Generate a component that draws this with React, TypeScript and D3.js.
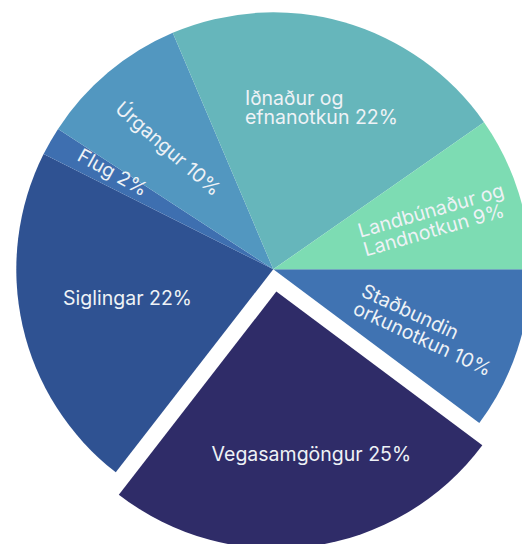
import React from "react";
import * as d3 from "d3";

// Categories in drawing order (clockwise, starting at 3 o'clock)
const categories = [
  "Staðbundin orkunotkun",
  "Vegasamgöngur",
  "Siglingar",
  "Flug",
  "Úrgangur",
  "Iðnaður og efnanotkun",
  "Landbúnaður og Landnotkun",
];
// Shares (%)
const values = [10.2, 25.3, 21.9, 1.8, 9.4, 21.7, 9.7];
// Label text lines
const labelLines = [
  ["Staðbundin", "orkunotkun 10%"],
  ["Vegasamgöngur 25%"],
  ["Siglingar 22%"],
  ["Flug 2%"],
  ["Úrgangur 10%"],
  ["Iðnaður og", "efnanotkun 22%"],
  ["Landbúnaður og", "Landnotkun 9%"],
];
const colors = ["#4073b2", "#2f2c68", "#2f5292", "#3e6fb0", "#5297c0", "#66b6bb", "#7ddcb3"];
const exploded = [false, true, false, false, false, false, false];

// label placement relative to pie centre: dx, dy, rotation, anchor
const labelStyle = [
  { dx: 86.7, dy: 26.4, rot: 25, anchor: "start" },
  { dx: 38, dy: 191.7, rot: 0, anchor: "middle" },
  { dx: -145.8, dy: 35.7, rot: 0, anchor: "middle" },
  { dx: -164, dy: -91, rot: 29, anchor: "middle" },
  { dx: -109.5, dy: -115.5, rot: 41, anchor: "middle" },
  { dx: -28.3, dy: -164.3, rot: 0, anchor: "start" },
  { dx: 87, dy: -31.5, rot: -16, anchor: "start" },
];

const W = 522;
const H = 544;
const CX = 273.3;
const CY = 269.3;
const R = 257;
const EXPLODE = 22.5;
const LINE_H = 19.5;

export default function App() {
  const pie = d3
    .pie<number>()
    .sort(null)
    .value((d) => d)
    .startAngle(Math.PI / 2)
    .endAngle(Math.PI / 2 + 2 * Math.PI);
  const arcs = pie(values);
  const arc = d3.arc<d3.PieArcDatum<number>>().innerRadius(0).outerRadius(R);

  return (
    <svg
      width={W}
      height={H}
      style={{ position: "absolute", left: 0, top: 0, background: "#ffffff" }}
    >
      <g transform={`translate(${CX},${CY})`}>
        {arcs.map((a, i) => {
          let ox = 0;
          let oy = 0;
          if (exploded[i]) {
            const mid = (a.startAngle + a.endAngle) / 2;
            ox = Math.sin(mid) * EXPLODE;
            oy = -Math.cos(mid) * EXPLODE;
          }
          return (
            <path
              key={categories[i]}
              d={arc(a) || ""}
              fill={colors[i]}
              transform={`translate(${ox},${oy})`}
            />
          );
        })}
        {arcs.map((a, i) => {
          const s = labelStyle[i];
          return (
            <text
              key={"l" + i}
              transform={`translate(${s.dx},${s.dy}) rotate(${s.rot})`}
              textAnchor={s.anchor}
              fill="#eef2f6"
              fontFamily="Inter, 'Noto Sans', sans-serif"
              fontSize={19.5}
            >
              {labelLines[i].map((ln, j) => (
                <tspan key={j} x={0} dy={j === 0 ? 0 : LINE_H}>
                  {ln}
                </tspan>
              ))}
            </text>
          );
        })}
      </g>
    </svg>
  );
}
